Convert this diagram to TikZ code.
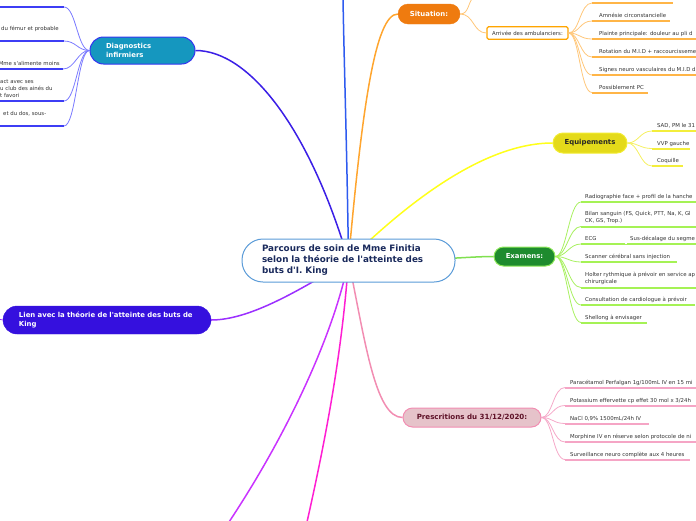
\documentclass[tikz,border=0pt]{standalone}
\usepackage{fontspec}
\setmainfont{DejaVu Sans}
\usetikzlibrary{backgrounds,calc}
\definecolor{ctrBorder}{HTML}{5A9BD8}
\definecolor{ctrText}{HTML}{1A2A5C}
\definecolor{blueLine}{HTML}{2E5BEF}
\definecolor{diagLine}{HTML}{3B1FE6}
\definecolor{diagFill}{HTML}{1597BF}
\definecolor{diagBorder}{HTML}{3535F0}
\definecolor{diagUnder}{HTML}{3D3DF5}
\definecolor{diagConn}{HTML}{7A7AFF}
\definecolor{orgLine}{HTML}{FFA52E}
\definecolor{sitFill}{HTML}{EF7B0F}
\definecolor{arrBorder}{HTML}{FFA500}
\definecolor{sitUnder}{HTML}{FFB547}
\definecolor{sitConn}{HTML}{FFC77A}
\definecolor{yelLine}{HTML}{FFFF1A}
\definecolor{eqFill}{HTML}{E4DA1A}
\definecolor{eqBorder}{HTML}{F2EC30}
\definecolor{eqUnder}{HTML}{F3EE3C}
\definecolor{eqConn}{HTML}{F5F060}
\definecolor{grnLine}{HTML}{80E050}
\definecolor{exFill}{HTML}{1E8B2E}
\definecolor{exBorder}{HTML}{8EE85A}
\definecolor{exUnder}{HTML}{A5F255}
\definecolor{exConn}{HTML}{A8F060}
\definecolor{pnkLine}{HTML}{F28DB2}
\definecolor{prFill}{HTML}{E6C3CA}
\definecolor{prText}{HTML}{5E1228}
\definecolor{prUnder}{HTML}{F5A5C5}
\definecolor{prConn}{HTML}{F5A8C8}
\definecolor{purLine}{HTML}{9B30FF}
\definecolor{lienFill}{HTML}{3510DE}
\definecolor{magA}{HTML}{C933FF}
\definecolor{magB}{HTML}{FF1ED2}
\definecolor{leafText}{HTML}{333333}

% #1 colour, #2 name, #3 x0, #4 x1, #5 y of underline, #6 x text, #7 baseline of last line, #8 text
\newcommand{\leafnode}[8]{%
  \coordinate (#2-s) at (#3,#5);
  \coordinate (#2-e) at (#4,#5);
  \draw[uline, #1] (#2-s) -- (#2-e);
  \node[leaftext, anchor=base west] (#2) at (#6,#7) {#8};
}
% underline only (text outside the picture)
\newcommand{\leafline}[5]{%
  \coordinate (#2-s) at (#3,#5);
  \coordinate (#2-e) at (#4,#5);
  \draw[uline, #1] (#2-s) -- (#2-e);
}
\newcommand{\sq}{\textquotesingle}

\begin{document}
\begin{tikzpicture}[x=1pt,y=-1pt,
  mainconn/.style={line width=1.5pt},
  leafconn/.style={line width=0.8pt},
  uline/.style={line width=2pt},
  leaftext/.style={inner sep=0pt, align=left, text=leafText, font=\fontsize{5.4}{7}\selectfont},
  ctr/.style={draw=ctrBorder, line width=1pt, fill=white, rounded corners=21pt,
    minimum width=213pt, minimum height=43pt, text width=173pt, inner xsep=20pt, inner ysep=0pt,
    align=left, font=\fontsize{8.8}{11}\selectfont\bfseries, text=ctrText},
  topic/.style={inner sep=0pt, align=center, font=\fontsize{6.9}{9}\selectfont\bfseries},
]
\useasboundingbox (0,0) rectangle (696,520);
\clip (0,0) rectangle (696,520);

% ---------- main nodes
\node[ctr] (c) at (348.5,260.5) {Parcours de soin de Mme Finitia\\selon la théorie de l\sq atteinte des\\buts d\sq I. King};

\node[topic, fill=diagFill, draw=diagBorder, line width=1pt, rounded corners=13.5pt,
  minimum width=105pt, minimum height=27pt, text width=73pt, inner xsep=16pt,
  align=left, text=white] (diag) at (142.5,50.5) {Diagnostics\\infirmiers};

\node[topic, fill=sitFill, draw=sitFill, rounded corners=10pt, minimum width=62pt,
  minimum height=20pt, text=white] (sit) at (429,14) {Situation:};

\node[inner sep=0pt, draw=arrBorder, line width=1.1pt, fill=white, rounded corners=1.5pt,
  minimum width=81pt, minimum height=12.5pt, text=leafText,
  font=\fontsize{5.4}{7}\selectfont] (arr) at (527.5,33) {Arrivée des ambulanciers:};

\node[topic, fill=eqFill, draw=eqBorder, line width=1pt, rounded corners=10pt,
  minimum width=74pt, minimum height=20pt, text=black!85] (eq) at (590,143) {Equipements};

\node[topic, fill=exFill, draw=exBorder, line width=1pt, rounded corners=9.5pt,
  minimum width=61pt, minimum height=19pt, text=white] (ex) at (524.5,256.5) {Examens:};

\node[topic, fill=prFill, draw=pnkLine, line width=1pt, rounded corners=9.5pt,
  minimum width=138pt, minimum height=19pt, text=prText,
  font=\fontsize{7.1}{9}\selectfont\bfseries] (pr) at (472,417.5) {Prescritions du 31/12/2020:};

\node[topic, fill=lienFill, draw=lienFill, rounded corners=14pt, minimum width=208pt,
  minimum height=28pt, text width=176pt, inner xsep=16pt, align=left, text=white,
  font=\fontsize{6.9}{8.3}\selectfont\bfseries] (lien) at (107,320) {Lien avec la théorie de l\sq atteinte des buts de\\King};

% free ends
\coordinate (topB) at (343,-2);
\coordinate (mA) at (229,522);
\coordinate (mB) at (307,522);
\coordinate (lienL) at (-2,319);
\coordinate (sitUp) at (473,-2);

% ---------- connectors from the central node (behind it)
\begin{pgfonlayer}{background}
\clip (0,0) rectangle (696,520);
\draw[mainconn, blueLine] (c.center) .. controls (347,150) and (344,60) .. (topB);
\draw[mainconn, diagLine] (c.center) .. controls (310,130) and (250,50.5) .. (diag.east);
\draw[mainconn, orgLine] (c.center) .. controls (362,110) and (375,14) .. (sit.west);
\draw[mainconn, yelLine] (c.center) .. controls (400,210) and (480,143) .. (eq.west);
\draw[mainconn, grnLine] (c.center) .. controls (420,262) and (465,256.5) .. (ex.west);
\draw[mainconn, pnkLine] (c.center) .. controls (365,340) and (375,417.5) .. (pr.west);
\draw[mainconn, purLine] (c.center) .. controls (300,290) and (250,320) .. (lien.east);
\draw[mainconn, magA] (c.center) .. controls (335,330) and (290,430) .. (mA);
\draw[mainconn, magB] (c.center) .. controls (343,340) and (330,420) .. (mB);
\end{pgfonlayer}

\draw[leafconn, purLine] (lien.west) -- (lienL);

% ---------- Diagnostics leaves (cut at the left edge)
\leafline{diagUnder}{d1}{-5}{64}{7}
\leafnode{diagUnder}{d2}{-5}{64}{41}{1}{30}{du fémur et probable}
\coordinate (d3-s) at (-5,69);
\coordinate (d3-e) at (63,69);
\draw[uline, diagUnder] (d3-s) -- (d3-e);
\node[leaftext, anchor=base east] (d3) at (60,65) {Mme s\sq alimente moins};
\leafnode{diagUnder}{d4}{-5}{64}{101}{0}{97}{act avec ses\\u club des ainés du\\t favori}
\leafnode{diagUnder}{d5}{-5}{64}{126}{3}{115}{et du dos, sous-}
\foreach \n in {d1,d2,d3,d4,d5}
  \draw[leafconn, diagConn] (diag.west) .. controls +(-12,0) and +(12,0) .. (\n-e);

% ---------- Situation
\draw[leafconn, sitConn] (sit.east) .. controls (469,14) and (468,2) .. (sitUp);
\draw[leafconn, sitConn] (sit.east) .. controls (474,14) and (473,33) .. (arr.west);
\leafline{sitUnder}{s0}{592}{673}{3}
\leafnode{sitUnder}{s1}{592}{670}{21}{599}{17}{Amnésie circonstancielle}
\leafnode{sitUnder}{s2}{592}{700}{39}{599}{35}{Plainte principale: douleur au pli d}
\leafnode{sitUnder}{s3}{592}{700}{57}{599}{53}{Rotation du M.I.D + raccourcisseme}
\leafnode{sitUnder}{s4}{592}{700}{75}{599}{71}{Signes neuro vasculaires du M.I.D d}
\leafnode{sitUnder}{s5}{592}{648}{92.5}{599}{89}{Possiblement PC}
\foreach \n in {s0,s1,s2,s3,s4,s5}
  \draw[leafconn, sitConn] (arr.east) .. controls +(11,0) and +(-12,0) .. (\n-s);

% ---------- Equipements
\leafnode{eqUnder}{e1}{652}{700}{131}{657}{127}{SAD, PM le 31}
\leafnode{eqUnder}{e2}{652}{690}{148.5}{657}{145}{VVP gauche}
\leafnode{eqUnder}{e3}{652}{683}{166}{657}{162}{Coquille}
\foreach \n in {e1,e2,e3}
  \draw[leafconn, eqConn] (eq.east) .. controls +(11,0) and +(-12,0) .. (\n-s);

% ---------- Examens
\leafnode{exUnder}{x1}{581}{700}{202}{585}{198}{Radiographie face + profil de la hanche}
\leafnode{exUnder}{x2}{581}{700}{226.5}{585}{222}{Bilan sanguin (FS, Quick, PTT, Na, K, Gl\\CK, GS, Trop.)}
\leafnode{exUnder}{x3}{581}{625}{244}{585}{240}{ECG}
\leafnode{exUnder}{x3a}{627}{700}{244}{630}{240}{Sus-décalage du segme}
\leafnode{exUnder}{x4}{581}{677}{262}{585}{258}{Scanner cérébral sans injection}
\leafnode{exUnder}{x5}{581}{700}{287.5}{585}{283}{Holter rythmique à prévoir en service ap\\chirurgicale}
\leafnode{exUnder}{x6}{581}{695}{305}{585}{301}{Consultation de cardiologue à prévoir}
\leafnode{exUnder}{x7}{581}{647}{322.5}{585}{319}{Shellong à envisager}
\foreach \n in {x1,x2,x3,x4,x5,x6,x7}
  \draw[leafconn, exConn] (ex.east) .. controls +(11,0) and +(-12,0) .. (\n-s);
\draw[leafconn, exConn] (x3-e) -- (x3a-s);

% ---------- Prescriptions
\leafnode{prUnder}{p1}{565}{700}{387.5}{570}{384}{Paracétamol Perfalgan 1g/100mL IV en 15 mi}
\leafnode{prUnder}{p2}{565}{700}{405.5}{570}{402}{Potassium effervette cp effet 30 mol x 3/24h}
\leafnode{prUnder}{p3}{565}{649}{423.5}{570}{420}{NaCl 0,9\% 1500mL/24h IV}
\leafnode{prUnder}{p4}{565}{700}{442}{570}{438}{Morphine IV en réserve selon protocole de ni}
\leafnode{prUnder}{p5}{565}{690}{459.5}{570}{456}{Surveillance neuro complète aux 4 heures}
\foreach \n in {p1,p2,p3,p4,p5}
  \draw[leafconn, prConn] (pr.east) .. controls +(11,0) and +(-12,0) .. (\n-s);
\end{tikzpicture}
\end{document}
